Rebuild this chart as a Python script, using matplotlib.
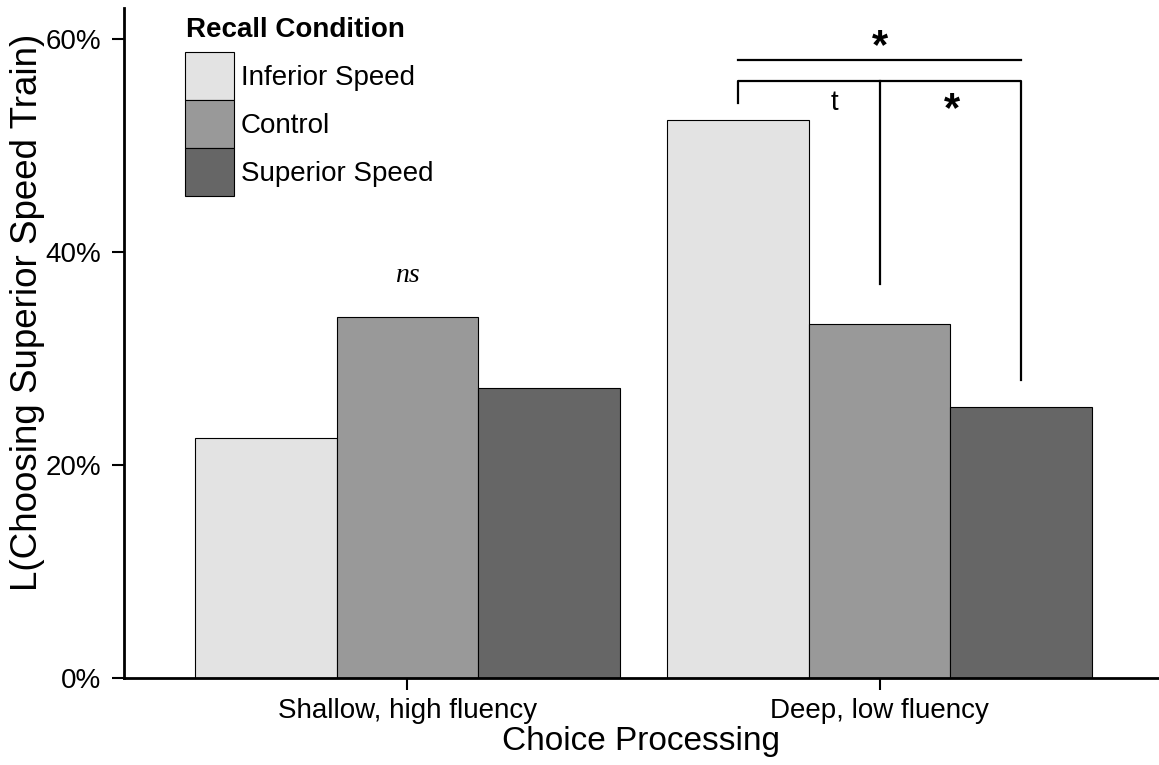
import matplotlib
matplotlib.use("Agg")
import matplotlib.pyplot as plt
from matplotlib.patches import Patch
from matplotlib.ticker import FuncFormatter

plt.rcParams['font.family'] = ['Liberation Sans', 'DejaVu Sans']

# Data
processing = ["Shallow, high fluency", "Deep, low fluency"]
conditions = ["Inferior Speed", "Control", "Superior Speed"]
inferior = [22.5, 52.4]
control = [33.9, 33.2]
superior = [27.2, 25.4]
y_ticks = [0, 20, 40, 60]

fills = ["#e3e3e3", "#999999", "#666666"]
series = [inferior, control, superior]

W, H = 1159, 765
fig = plt.figure(figsize=(W / 100, H / 100), dpi=100)
ax = fig.add_axes([124 / W, (H - 678) / H, (1163 - 124) / W, (678 - 8) / H])

group_x = [1, 2]
bar_w = 0.3
offsets = [-bar_w, 0, bar_w]
for vals, off, col, lab in zip(series, offsets, fills, conditions):
    ax.bar([g + off for g in group_x], vals, width=bar_w, color=col,
           edgecolor="black", linewidth=0.8, label=lab, zorder=2)

ax.set_xlim(0.4, 2.6)
ax.set_ylim(0, 62.9)
ax.set_xticks(group_x)
ax.set_xticklabels(processing)
ax.set_yticks(y_ticks)
ax.yaxis.set_major_formatter(FuncFormatter(lambda v, p: f"{v:.0f}%"))

for s in ["top", "right"]:
    ax.spines[s].set_visible(False)
for s in ["left", "bottom"]:
    ax.spines[s].set_linewidth(2)
    ax.spines[s].set_zorder(3)
ax.tick_params(axis="both", length=8.5, width=1.5, labelsize=20, colors="black")
ax.tick_params(axis="y", pad=8)
ax.tick_params(axis="x", pad=6)

ax.set_xlabel("Choice Processing", fontsize=24)
ax.set_ylabel("L(Choosing Superior Speed Train)", fontsize=26.5)
ax.xaxis.set_label_coords(0.4976, -0.0955)
ax.xaxis.label.set_va("center")
ax.yaxis.set_label_coords(-0.0924, 0.545)
ax.yaxis.label.set_va("center")

# Significance annotations
lw = 1.6
x_inf, x_con, x_sup = 2 - bar_w, 2, 2 + bar_w
ax.plot([x_inf, x_sup], [58.0, 58.0], color="black", lw=lw, clip_on=False)
ax.plot([x_inf, x_inf, x_sup, x_sup], [54.0, 56.0, 56.0, 28.0],
        color="black", lw=lw, clip_on=False)
ax.plot([x_con, x_con], [56.0, 37.0], color="black", lw=lw, clip_on=False)
ax.text(2.0, 59.2, "*", ha="center", va="center", fontsize=30, fontweight="bold")
ax.text(1.905, 54.0, "t", ha="center", va="center", fontsize=20)
ax.text(2.153, 53.3, "*", ha="center", va="center", fontsize=30, fontweight="bold")
ax.text(1.0, 37.8, "ns", ha="center", va="center", fontsize=20,
        style="italic", family=["Liberation Serif", "DejaVu Serif"])

# Legend
fig.text(186 / W, 1 - 37 / H, "Recall Condition", fontsize=20,
         fontweight="bold", ha="left", va="baseline")
handles = [Patch(facecolor=c, edgecolor="black", linewidth=0.8) for c in fills]
leg = ax.legend(handles, conditions,
                loc="upper left", bbox_to_anchor=(185 / W, 1 - 52 / H),
                bbox_transform=fig.transFigure, frameon=False, fontsize=20,
                handlelength=1.76, handleheight=2.285, labelspacing=0,
                handletextpad=0.25, borderpad=0, borderaxespad=0)

fig.savefig("out.png", dpi=100)
